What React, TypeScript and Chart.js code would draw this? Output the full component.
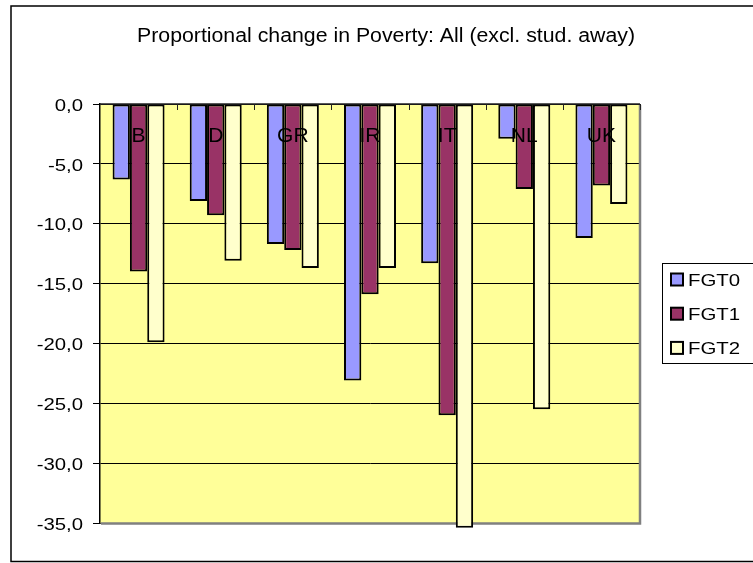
import React, { useEffect, useRef } from "react";
import { Chart, registerables } from "chart.js";

Chart.register(...registerables);

const TITLE = "Proportional change in Poverty: All (excl. stud. away)";
const CATEGORIES = ["B", "D", "GR", "IR", "IT", "NL", "UK"];
const SERIES_NAMES = ["FGT0", "FGT1", "FGT2"];
const FGT0 = [-6.3, -8.1, -11.7, -23.1, -13.3, -2.9, -11.2];
const FGT1 = [-14.0, -9.3, -12.2, -15.9, -26.0, -7.1, -6.8];
const FGT2 = [-19.9, -13.1, -13.7, -13.7, -35.4, -25.5, -8.35];
const SERIES_COLORS = ["#9999FF", "#993366", "#FFFFCC"];
const Y_MIN = -35;
const Y_MAX = 0;
const Y_STEP = 5;

const FONT = "'Liberation Sans', Arial, sans-serif";

function drawText(
  ctx: CanvasRenderingContext2D,
  s: string,
  x: number,
  y: number,
  size: number,
  sx: number,
  align: "left" | "center" | "right"
) {
  ctx.save();
  ctx.font = `${size}px ${FONT}`;
  ctx.textBaseline = "alphabetic";
  ctx.textAlign = "left";
  ctx.fillStyle = "#000";
  const w = ctx.measureText(s).width * sx;
  const x0 = align === "center" ? x - w / 2 : align === "right" ? x - w : x;
  ctx.translate(x0, y);
  ctx.scale(sx, 1);
  ctx.fillText(s, 0, 0);
  ctx.restore();
}

const decorPlugin = {
  id: "decor",
  beforeDraw(chart: any) {
    const { ctx, chartArea: a } = chart;
    ctx.save();
    ctx.fillStyle = "#fff";
    ctx.fillRect(0, 0, chart.width, chart.height);
    // outer frame
    ctx.strokeStyle = "#000";
    ctx.lineWidth = 1.5;
    ctx.strokeRect(11, 6, chart.width + 20, 555.5);
    // plot background
    ctx.fillStyle = "#FFFF99";
    ctx.fillRect(a.left, a.top, a.right - a.left, a.bottom - a.top);
    ctx.restore();
  },
  beforeDatasetsDraw(chart: any) {
    const { ctx, chartArea: a } = chart;
    ctx.save();
    ctx.strokeStyle = "#808080";
    ctx.lineWidth = 2.5;
    ctx.beginPath();
    ctx.moveTo(a.right, a.top + 1);
    ctx.lineTo(a.right, a.bottom + 1.5);
    ctx.moveTo(a.left + 1, a.bottom + 0.5);
    ctx.lineTo(a.right + 1.2, a.bottom + 0.5);
    ctx.stroke();
    ctx.restore();
  },
  afterDatasetsDraw(chart: any) {
    const { ctx, chartArea: a } = chart;
    const xs = chart.scales.x;
    const ys = chart.scales.y;
    const y0 = ys.getPixelForValue(0);
    ctx.save();
    // top (category) axis line
    ctx.strokeStyle = "#222";
    ctx.lineWidth = 1.5;
    ctx.beginPath();
    ctx.moveTo(a.left, y0);
    ctx.lineTo(a.right, y0);
    ctx.stroke();
    // category tick marks at boundaries
    const n = CATEGORIES.length;
    const cw = (a.right - a.left) / n;
    ctx.lineWidth = 1;
    ctx.beginPath();
    for (let i = 1; i <= n; i++) {
      const x = Math.round(a.left + cw * i) + 0.5;
      ctx.moveTo(x, y0);
      ctx.lineTo(x, y0 + 6);
    }
    ctx.stroke();
    ctx.restore();
    // category labels
    CATEGORIES.forEach((c, i) => {
      drawText(ctx, c, xs.getPixelForValue(i), y0 + 38, 21, 1.0, "center");
    });
    // y tick labels
    ys.ticks.forEach((t: any) => {
      const py = ys.getPixelForValue(t.value);
      const label = t.value.toFixed(1).replace(".", ",");
      drawText(ctx, label, 83, py + 6.7, 16, 1.27, "right");
    });
  },
  afterDraw(chart: any) {
    const { ctx } = chart;
    // title
    drawText(ctx, TITLE, 386, 42, 20, 1.064, "center");
    // legend
    ctx.save();
    ctx.strokeStyle = "#000";
    ctx.lineWidth = 1;
    ctx.strokeRect(662.5, 263.5, 120, 100);
    chart.data.datasets.forEach((ds: any, i: number) => {
      const top = 273.5 + i * 34.2;
      ctx.fillStyle = ds.backgroundColor;
      ctx.fillRect(671, top, 12, 12);
      ctx.strokeStyle = "#000";
      ctx.lineWidth = 2;
      ctx.strokeRect(671, top, 12, 12);
    });
    ctx.restore();
    chart.data.datasets.forEach((ds: any, i: number) => {
      drawText(ctx, ds.label, 688, 286 + i * 34, 17, 1.2, "left");
    });
  },
};

export default function App() {
  const ref = useRef<HTMLCanvasElement | null>(null);

  useEffect(() => {
    if (!ref.current) return;
    const seriesData = [FGT0, FGT1, FGT2];
    const chart = new Chart(ref.current, {
      type: "bar",
      data: {
        labels: CATEGORIES,
        datasets: SERIES_NAMES.map((name, i) => ({
          label: name,
          data: seriesData[i],
          backgroundColor: SERIES_COLORS[i],
          borderColor: "#000",
          borderWidth: 2,
          borderSkipped: false,
          categoryPercentage: 0.674,
          barPercentage: 1.0,
          clip: false as any,
        })),
      },
      options: {
        responsive: false,
        animation: false,
        devicePixelRatio: 1,
        layout: { padding: { top: 104, right: 113, bottom: 40, left: 0 } },
        plugins: {
          legend: { display: false },
          title: { display: false },
          tooltip: { enabled: false },
        },
        scales: {
          x: { display: false },
          y: {
            min: Y_MIN,
            max: Y_MAX,
            ticks: { stepSize: Y_STEP, display: false },
            grid: {
              color: "#000",
              lineWidth: 1,
              drawTicks: true,
              tickLength: 7,
              tickColor: "#000",
            },
            border: { display: true, color: "#000", width: 1.5 },
            afterFit: (s: any) => {
              s.width = 100;
            },
          },
        },
      },
      plugins: [decorPlugin],
    });
    return () => chart.destroy();
  }, []);

  return (
    <div style={{ position: "absolute", left: 0, top: 0, width: 753, height: 563, background: "#fff" }}>
      <canvas ref={ref} width={753} height={563} style={{ display: "block" }} />
    </div>
  );
}
